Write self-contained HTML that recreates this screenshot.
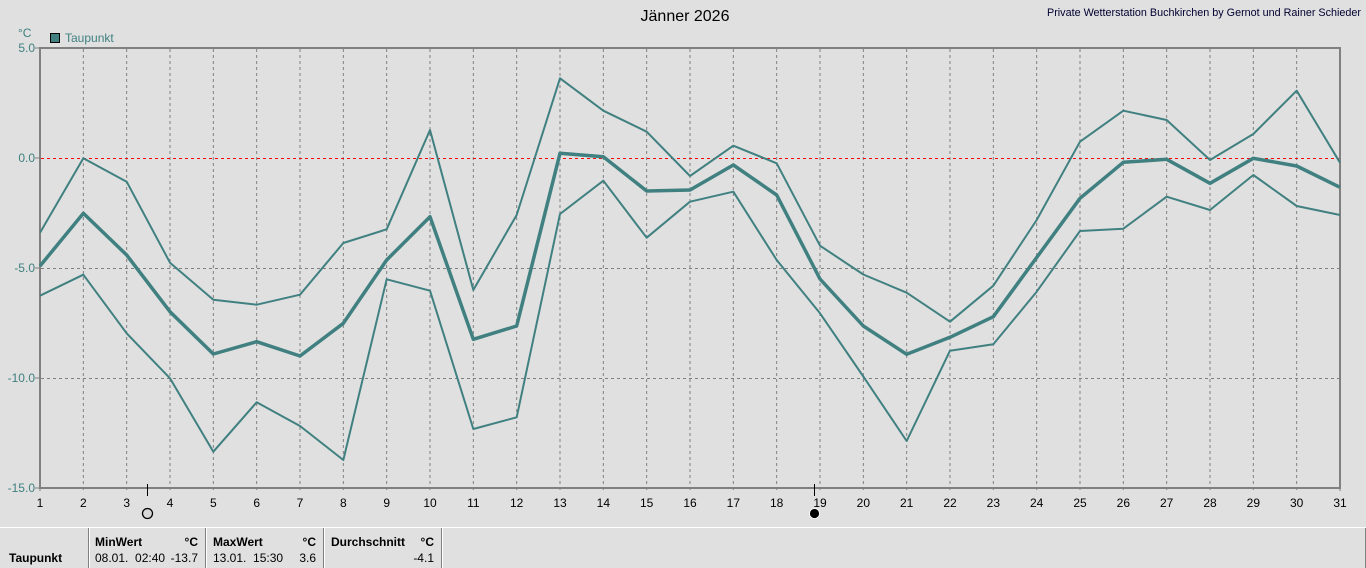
<!DOCTYPE html>
<html>
<head>
<meta charset="utf-8">
<style>
html,body{margin:0;padding:0;background:#e0e0e0;}
svg{display:block;}
text{font-family:"Liberation Sans",Arial,sans-serif;}
</style>
</head>
<body>
<svg width="1366" height="568" viewBox="0 0 1366 568" xmlns="http://www.w3.org/2000/svg">
<rect x="0" y="0" width="1366" height="568" fill="#e0e0e0"/>

<!-- titles -->
<text x="685" y="21" font-size="16" text-anchor="middle" fill="#000">Jänner 2026</text>
<text x="1047" y="16" font-size="11" fill="#000030" textLength="314" lengthAdjust="spacingAndGlyphs">Private Wetterstation Buchkirchen by Gernot und Rainer Schieder</text>

<!-- unit and legend -->
<text x="18" y="37" font-size="12" fill="#408080">°C</text>
<rect x="50.5" y="33.5" width="9" height="9" fill="#408080" stroke="#000" stroke-width="1"/>
<text x="65" y="42" font-size="12" fill="#408080">Taupunkt</text>

<!-- vertical grid -->
<g stroke="#808080" stroke-width="1" stroke-dasharray="3,3">
<line x1="83.33" y1="49" x2="83.33" y2="493"/>
<line x1="126.67" y1="49" x2="126.67" y2="493"/>
<line x1="170" y1="49" x2="170" y2="493"/>
<line x1="213.33" y1="49" x2="213.33" y2="493"/>
<line x1="256.67" y1="49" x2="256.67" y2="493"/>
<line x1="300" y1="49" x2="300" y2="493"/>
<line x1="343.33" y1="49" x2="343.33" y2="493"/>
<line x1="386.67" y1="49" x2="386.67" y2="493"/>
<line x1="430" y1="49" x2="430" y2="493"/>
<line x1="473.33" y1="49" x2="473.33" y2="493"/>
<line x1="516.67" y1="49" x2="516.67" y2="493"/>
<line x1="560" y1="49" x2="560" y2="493"/>
<line x1="603.33" y1="49" x2="603.33" y2="493"/>
<line x1="646.67" y1="49" x2="646.67" y2="493"/>
<line x1="690" y1="49" x2="690" y2="493"/>
<line x1="733.33" y1="49" x2="733.33" y2="493"/>
<line x1="776.67" y1="49" x2="776.67" y2="493"/>
<line x1="820" y1="49" x2="820" y2="493"/>
<line x1="863.33" y1="49" x2="863.33" y2="493"/>
<line x1="906.67" y1="49" x2="906.67" y2="493"/>
<line x1="950" y1="49" x2="950" y2="493"/>
<line x1="993.33" y1="49" x2="993.33" y2="493"/>
<line x1="1036.67" y1="49" x2="1036.67" y2="493"/>
<line x1="1080" y1="49" x2="1080" y2="493"/>
<line x1="1123.33" y1="49" x2="1123.33" y2="493"/>
<line x1="1166.67" y1="49" x2="1166.67" y2="493"/>
<line x1="1210" y1="49" x2="1210" y2="493"/>
<line x1="1253.33" y1="49" x2="1253.33" y2="493"/>
<line x1="1296.67" y1="49" x2="1296.67" y2="493"/>
<line x1="40" y1="488" x2="40" y2="493"/>
<line x1="1340" y1="488" x2="1340" y2="493"/>
</g>
<!-- horizontal grid -->
<g stroke="#808080" stroke-width="1" stroke-dasharray="3,3">
<line x1="41" y1="268.5" x2="1339" y2="268.5"/>
<line x1="41" y1="378.5" x2="1339" y2="378.5"/>
</g>
<line x1="41" y1="158.5" x2="1339" y2="158.5" stroke="#ff0000" stroke-width="1" stroke-dasharray="3,3"/>

<!-- frame -->
<rect x="40" y="48" width="1300" height="440" fill="none" stroke="#808080" stroke-width="2"/>
<g stroke="#808080" stroke-width="1">
<line x1="35" y1="48" x2="40" y2="48"/>
<line x1="35" y1="158" x2="40" y2="158"/>
<line x1="35" y1="268" x2="40" y2="268"/>
<line x1="35" y1="378" x2="40" y2="378"/>
<line x1="35" y1="488" x2="40" y2="488"/>
</g>

<!-- y labels -->
<g font-size="12" fill="#408080" text-anchor="end">
<text x="35" y="52">5.0</text>
<text x="35" y="162">0.0</text>
<text x="35" y="272">-5.0</text>
<text x="35" y="382">-10.0</text>
<text x="35" y="492">-15.0</text>
</g>

<!-- x labels -->
<g font-size="12" fill="#000" text-anchor="middle">
<text x="40" y="507">1</text>
<text x="83.33" y="507">2</text>
<text x="126.67" y="507">3</text>
<text x="170" y="507">4</text>
<text x="213.33" y="507">5</text>
<text x="256.67" y="507">6</text>
<text x="300" y="507">7</text>
<text x="343.33" y="507">8</text>
<text x="386.67" y="507">9</text>
<text x="430" y="507">10</text>
<text x="473.33" y="507">11</text>
<text x="516.67" y="507">12</text>
<text x="560" y="507">13</text>
<text x="603.33" y="507">14</text>
<text x="646.67" y="507">15</text>
<text x="690" y="507">16</text>
<text x="733.33" y="507">17</text>
<text x="776.67" y="507">18</text>
<text x="820" y="507">19</text>
<text x="863.33" y="507">20</text>
<text x="906.67" y="507">21</text>
<text x="950" y="507">22</text>
<text x="993.33" y="507">23</text>
<text x="1036.67" y="507">24</text>
<text x="1080" y="507">25</text>
<text x="1123.33" y="507">26</text>
<text x="1166.67" y="507">27</text>
<text x="1210" y="507">28</text>
<text x="1253.33" y="507">29</text>
<text x="1296.67" y="507">30</text>
<text x="1340" y="507">31</text>
</g>

<!-- moon markers -->
<line x1="147.5" y1="484" x2="147.5" y2="496" stroke="#000" stroke-width="1"/>
<circle cx="147.5" cy="513.5" r="5" fill="#d8d8d8" stroke="#000" stroke-width="1.3"/>
<line x1="814.5" y1="484" x2="814.5" y2="496" stroke="#000" stroke-width="1"/>
<circle cx="814.5" cy="513.5" r="5" fill="#000" stroke="#fff" stroke-width="0.8"/>

<!-- series -->
<g fill="none" stroke="#408080" stroke-linejoin="round">
<polyline stroke-width="2" points="40,232.7 83.33,158.3 126.67,181.7 170,262.7 213.33,299.7 256.67,304.7 300,294.7 343.33,243 386.67,229.3 430,130 473.33,290 516.67,215 560,78.3 603.33,110.7 646.67,131.7 690,176 733.33,145.7 776.67,163.3 820,245.7 863.33,274.5 906.67,292.7 950,321.7 993.33,285.7 1036.67,220 1080,141.7 1123.33,110.7 1166.67,120 1210,160 1253.33,134 1296.67,90.7 1340,162.7"/>
<polyline stroke-width="3.5" points="40,266 83.33,213.3 126.67,255 170,311.7 213.33,354 256.67,341.7 300,356 343.33,323.3 386.67,260 430,216.7 473.33,339.3 516.67,326 560,153.3 603.33,156.7 646.67,191 690,190 733.33,165 776.67,195 820,279 863.33,326 906.67,354.3 950,337.3 993.33,316.7 1036.67,257.5 1080,198.3 1123.33,162.3 1166.67,159.3 1210,183.3 1253.33,158.3 1296.67,166 1340,187.3"/>
<polyline stroke-width="2" points="40,295.7 83.33,274.7 126.67,333.3 170,378.3 213.33,451.7 256.67,402.3 300,426 343.33,460 386.67,279.3 430,290.7 473.33,429 516.67,417.3 560,214 603.33,180.7 646.67,237.7 690,201.7 733.33,191.7 776.67,260 820,313.3 863.33,376.5 906.67,441 950,350.7 993.33,344.3 1036.67,291.7 1080,231 1123.33,228.7 1166.67,196.7 1210,210 1253.33,175 1296.67,206 1340,215"/>
</g>

<!-- bottom table -->
<line x1="0" y1="527.5" x2="1366" y2="527.5" stroke="#ffffff" stroke-width="1"/>
<g stroke-width="1">
<line x1="88.5" y1="528" x2="88.5" y2="568" stroke="#808080"/>
<line x1="89.5" y1="528" x2="89.5" y2="568" stroke="#ffffff"/>
<line x1="205.5" y1="528" x2="205.5" y2="568" stroke="#808080"/>
<line x1="206.5" y1="528" x2="206.5" y2="568" stroke="#ffffff"/>
<line x1="323.5" y1="528" x2="323.5" y2="568" stroke="#808080"/>
<line x1="324.5" y1="528" x2="324.5" y2="568" stroke="#ffffff"/>
<line x1="441.5" y1="528" x2="441.5" y2="568" stroke="#808080"/>
<line x1="442.5" y1="528" x2="442.5" y2="568" stroke="#ffffff"/>
<line x1="1365.5" y1="528" x2="1365.5" y2="568" stroke="#808080"/>
</g>
<g font-size="12" fill="#000">
<text x="9" y="562" font-weight="bold">Taupunkt</text>
<text x="95" y="546" font-weight="bold">MinWert</text>
<text x="198" y="546" font-weight="bold" text-anchor="end">°C</text>
<text x="95" y="562" xml:space="preserve">08.01.  02:40</text>
<text x="198" y="562" text-anchor="end">-13.7</text>
<text x="213" y="546" font-weight="bold">MaxWert</text>
<text x="316" y="546" font-weight="bold" text-anchor="end">°C</text>
<text x="213" y="562" xml:space="preserve">13.01.  15:30</text>
<text x="316" y="562" text-anchor="end">3.6</text>
<text x="331" y="546" font-weight="bold">Durchschnitt</text>
<text x="434" y="546" font-weight="bold" text-anchor="end">°C</text>
<text x="434" y="562" text-anchor="end">-4.1</text>
</g>
</svg>
</body>
</html>
